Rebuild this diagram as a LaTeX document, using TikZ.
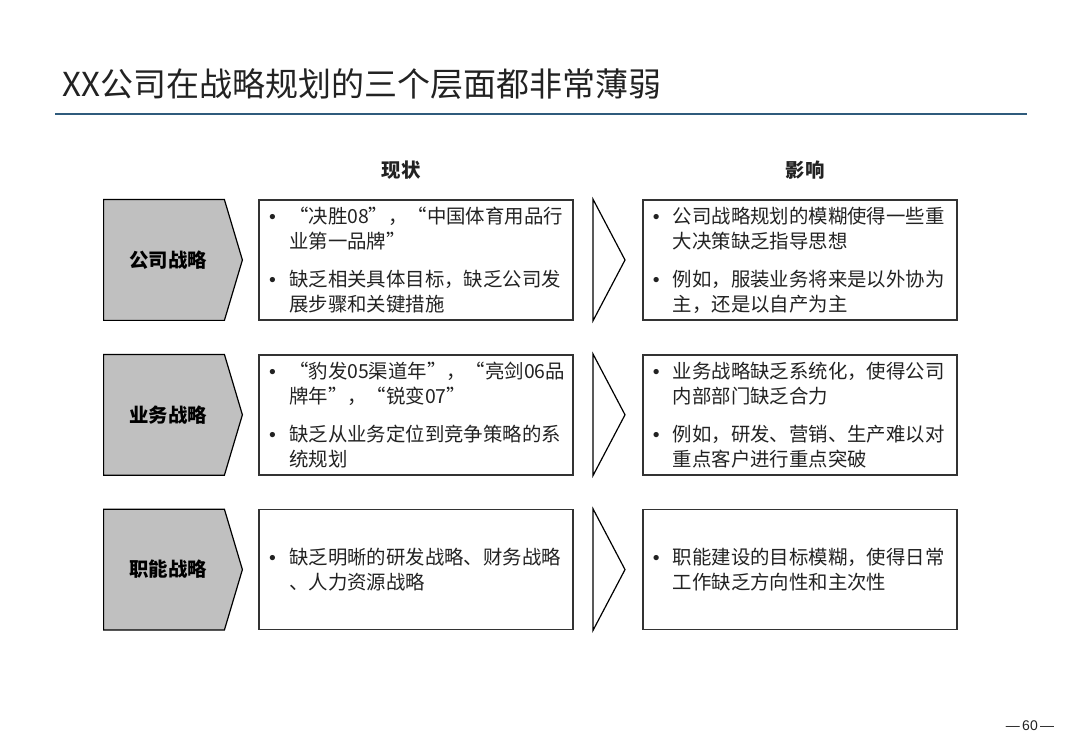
\documentclass[tikz,border=0pt]{standalone}
\usepackage{fontspec}
\setmainfont{Noto Sans CJK SC}
\newfontfamily\pgnofont{Liberation Sans}
\usetikzlibrary{positioning,calc,backgrounds}
\definecolor{lvlfill}{HTML}{C0C0C0}
\definecolor{boxline}{HTML}{333333}
\definecolor{inkdark}{HTML}{222222}
\definecolor{ruleblue}{HTML}{2F5B7C}
\newcommand\pnt[2]{\makebox[10pt][l]{\pgnofont\textbullet}#1\\\hspace*{10pt}#2}

\begin{document}
\begin{tikzpicture}[x=0.5pt, y=-0.5pt,
  font=\fontsize{9.7}{12.5}\selectfont,
  lvl/.style      = {minimum width=64pt, minimum height=60pt, inner sep=0pt,
                     font=\fontsize{9.7}{12.5}\selectfont\bfseries},
  lvlshape/.style = {draw=black, fill=lvlfill, line width=0.6pt, line join=miter},
  box/.style      = {draw=boxline, line width=0.8pt, text width=147pt, inner xsep=5pt,
                     inner ysep=2pt, minimum height=60pt, align=left, text=inkdark},
  chev/.style     = {draw=black, line width=0.6pt, line join=miter},
  hdr/.style      = {font=\fontsize{9.7}{12.5}\selectfont\bfseries, text=inkdark},
]
\useasboundingbox (0,0) rectangle (1080,748);

% --- title and rule ---------------------------------------------------------------
\node[anchor=west, inner sep=0pt, text=inkdark, font=\fontsize{16.5}{20}\selectfont]
      (title) at (62,84) {XX公司在战略规划的三个层面都非常薄弱};
\draw[ruleblue, line width=0.8pt] (55,114) -- (1027,114);

% --- column heads -------------------------------------------------------------------
\node[hdr] (hcur) at (401,170) {现状};
\node[hdr] (heff) at (805,170) {影响};

% --- first row ----------------------------------------------------------------------
\node[lvl]                       (lv1)  at (168,260) {公司战略};
\node[box, right=13pt of lv1]    (cur1) {\pnt{“决胜08”，“中国体育用品行}{业第一品牌”}\\[6.5pt]
                                         \pnt{缺乏相关具体目标，缺乏公司发}{展步骤和关键措施}};
\node[box, right=34pt of cur1]   (eff1) {\pnt{公司战略规划的模糊使得一些重}{大决策缺乏指导思想}\\[6.5pt]
                                         \pnt{例如，服装业务将来是以外协为}{主，还是以自产为主}};

% --- second row ---------------------------------------------------------------------
\node[lvl, below=17pt of lv1]    (lv2)  {业务战略};
\node[box, right=13pt of lv2]    (cur2) {\pnt{“豹发05渠道年”，“亮剑06品}{牌年”，“锐变07”}\\[6.5pt]
                                         \pnt{缺乏从业务定位到竞争策略的系}{统规划}};
\node[box, right=34pt of cur2]   (eff2) {\pnt{业务战略缺乏系统化，使得公司}{内部部门缺乏合力}\\[6.5pt]
                                         \pnt{例如，研发、营销、生产难以对}{重点客户进行重点突破}};

% --- third row ----------------------------------------------------------------------
\node[lvl, below=17pt of lv2]    (lv3)  {职能战略};
\node[box, right=13pt of lv3]    (cur3) {\pnt{缺乏明晰的研发战略、财务战略}{、人力资源战略}};
\node[box, right=34pt of cur3]   (eff3) {\pnt{职能建设的目标模糊，使得日常}{工作缺乏方向性和主次性}};

% --- grey pentagons behind the row labels -------------------------------------------
\begin{scope}[on background layer]
  \draw[lvlshape] (lv1.north west) -- ([xshift=-4pt]lv1.north east) -- ([xshift=5pt]lv1.east)
                  -- ([xshift=-4pt]lv1.south east) -- (lv1.south west) -- cycle;
  \draw[lvlshape] (lv2.north west) -- ([xshift=-4pt]lv2.north east) -- ([xshift=5pt]lv2.east)
                  -- ([xshift=-4pt]lv2.south east) -- (lv2.south west) -- cycle;
  \draw[lvlshape] (lv3.north west) -- ([xshift=-4pt]lv3.north east) -- ([xshift=5pt]lv3.east)
                  -- ([xshift=-4pt]lv3.south east) -- (lv3.south west) -- cycle;
\end{scope}

% --- chevrons between the columns ----------------------------------------------------
\draw[chev] ($(cur1.north east)+(19,0)$) -- ($(cur1.east)+(51,0)$) -- ($(cur1.south east)+(19,0)$) -- cycle;
\draw[chev] ($(cur2.north east)+(19,0)$) -- ($(cur2.east)+(51,0)$) -- ($(cur2.south east)+(19,0)$) -- cycle;
\draw[chev] ($(cur3.north east)+(19,0)$) -- ($(cur3.east)+(51,0)$) -- ($(cur3.south east)+(19,0)$) -- cycle;

% --- page number ---------------------------------------------------------------------
\node[font=\pgnofont\fontsize{7}{8}\selectfont, text=inkdark] (pgno) at (1030,726) {—\,60\,—};

\end{tikzpicture}
\end{document}
